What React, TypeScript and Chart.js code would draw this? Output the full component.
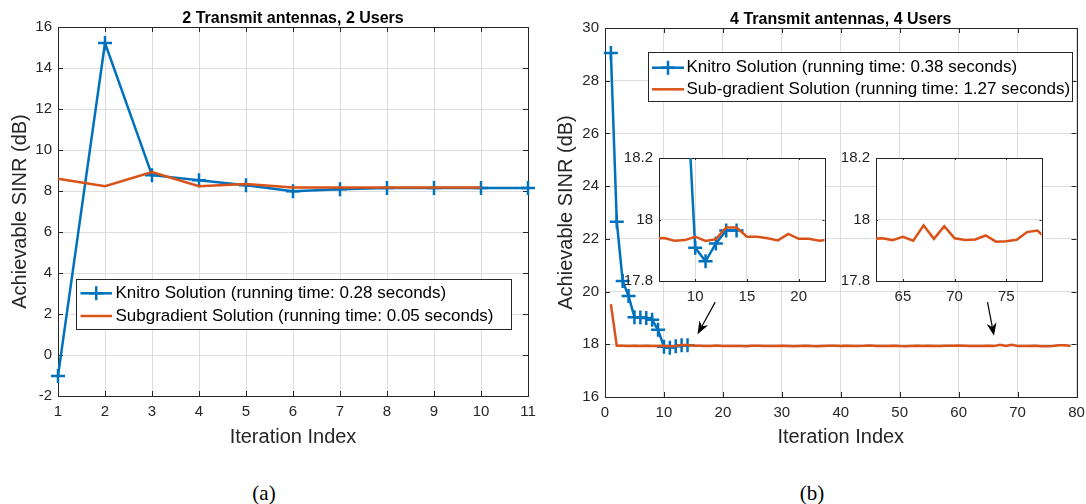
import React, { useEffect, useRef } from 'react';
import { Chart, registerables } from 'chart.js';

Chart.register(...registerables);

const FONT = '"Liberation Sans", Arial, Helvetica, sans-serif';
const SERIF = '"Liberation Serif", "Times New Roman", serif';
const BLUE = '#0072BD';
const ORANGE = '#D95319';
const AXIS = '#262626';
const GRID = '#dedede';

// ---------- Panel (a): 2 transmit antennas, 2 users ----------
const titleA = '2 Transmit antennas, 2 Users';
const iterKnitroA = [1, 2, 3, 4, 5, 6, 7, 8, 9, 10, 11];
const knitroA = [-1.02, 15.22, 8.77, 8.52, 8.28, 7.99, 8.08, 8.15, 8.15, 8.15, 8.15];
const iterSubgradA = [1, 2, 3, 4, 5, 6, 7, 8, 9, 10];
const subgradA = [8.6, 8.23, 8.93, 8.23, 8.34, 8.17, 8.17, 8.17, 8.17, 8.17];
const xTicksA = [1, 2, 3, 4, 5, 6, 7, 8, 9, 10, 11];
const yTicksA = [-2, 0, 2, 4, 6, 8, 10, 12, 14, 16];
const labelKnitroA = 'Knitro Solution (running time: 0.28 seconds)';
const labelSubgradA = 'Subgradient Solution (running time: 0.05 seconds)';

// ---------- Panel (b): 4 transmit antennas, 4 users ----------
const titleB = '4 Transmit antennas, 4 Users';
const iterKnitroB = [1, 2, 3, 4, 5, 6, 7, 8, 9, 10, 11, 12, 13, 14];
const knitroB = [29.05, 22.65, 20.4, 19.83, 19.03, 19.02, 19.0, 18.93, 18.55, 17.908, 17.864, 17.922, 17.964, 17.964];
const iterSubgradB = [
  1, 2, 3, 4, 5, 6, 7, 8, 9, 10,
  11, 12, 13, 14, 15, 16, 17, 18, 19, 20,
  21, 22, 23, 24, 25, 26, 27, 28, 29, 30,
  31, 32, 33, 34, 35, 36, 37, 38, 39, 40,
  41, 42, 43, 44, 45, 46, 47, 48, 49, 50,
  51, 52, 53, 54, 55, 56, 57, 58, 59, 60,
  61, 62, 63, 64, 65, 66, 67, 68, 69, 70,
  71, 72, 73, 74, 75, 76, 77, 78, 79,
];
const subgradB = [
  19.52, 17.94, 17.94, 17.936, 17.94, 17.938, 17.94, 17.931, 17.933, 17.944,
  17.93, 17.936, 17.974, 17.974, 17.944, 17.944, 17.939, 17.932, 17.953, 17.937,
  17.937, 17.931, 17.935, 17.928, 17.94, 17.946, 17.938, 17.932, 17.936, 17.942,
  17.934, 17.93, 17.938, 17.944, 17.931, 17.927, 17.936, 17.948, 17.94, 17.935,
  17.942, 17.937, 17.933, 17.941, 17.955, 17.939, 17.934, 17.938, 17.943, 17.932,
  17.929, 17.937, 17.945, 17.936, 17.94, 17.933, 17.938, 17.947, 17.941, 17.952,
  17.944, 17.937, 17.939, 17.933, 17.944, 17.931, 17.981, 17.937, 17.978, 17.939,
  17.933, 17.935, 17.948, 17.928, 17.929, 17.934, 17.959, 17.964, 17.934,
];
const xTicksB = [0, 10, 20, 30, 40, 50, 60, 70, 80];
const yTicksB = [16, 18, 20, 22, 24, 26, 28, 30];
const labelKnitroB = 'Knitro Solution (running time: 0.38 seconds)';
const labelSubgradB = 'Sub-gradient Solution (running time: 1.27 seconds)';

// insets
const xRangeInset1 = [6.5, 22.5];
const xRangeInset2 = [62.4, 78.4];
const yRangeInset = [17.8, 18.2];
const xTicksInset1 = [10, 15, 20];
const xTicksInset2 = [65, 70, 75];
const yTicksInset = [17.8, 18, 18.2];

// arrows (data coordinates of panel b)
const arrowsB = [
  { from: [18.7, 19.6], to: [15.7, 18.38] },
  { from: [64.9, 19.6], to: [66.0, 18.32] },
];

const axisLabelX = 'Iteration Index';
const axisLabelY = 'Achievable SINR (dB)';

const toPoints = (xs: number[], ys: number[]) => ys.map((y, i) => ({ x: xs[i], y }));

function makeDatasets(kx: number[], ky: number[], sx: number[], sy: number[], kl: string, sl: string) {
  return [
    {
      label: kl,
      data: toPoints(kx, ky),
      borderColor: BLUE,
      backgroundColor: BLUE,
      borderWidth: 2.5,
      pointStyle: 'cross',
      pointRadius: 7,
      pointBorderWidth: 2.5,
      pointBorderColor: BLUE,
      tension: 0,
      order: 1,
    },
    {
      label: sl,
      data: toPoints(sx, sy),
      borderColor: ORANGE,
      backgroundColor: ORANGE,
      borderWidth: 2.5,
      pointRadius: 0,
      tension: 0,
      order: 0,
    },
  ];
}

function framePlugin(tickLen: number) {
  return {
    id: 'frame',
    beforeDatasetsDraw(chart: any) {
      const { ctx, chartArea: a, scales } = chart;
      const xs = scales.x;
      const ys = scales.y;
      ctx.save();
      ctx.strokeStyle = AXIS;
      ctx.lineWidth = 1;
      ctx.beginPath();
      xs.ticks.forEach((t: any) => {
        const p = Math.round(xs.getPixelForValue(t.value)) + 0.5;
        ctx.moveTo(p, a.bottom);
        ctx.lineTo(p, a.bottom - tickLen);
        ctx.moveTo(p, a.top);
        ctx.lineTo(p, a.top + tickLen);
      });
      ys.ticks.forEach((t: any) => {
        const p = Math.round(ys.getPixelForValue(t.value)) + 0.5;
        ctx.moveTo(a.left, p);
        ctx.lineTo(a.left + tickLen, p);
        ctx.moveTo(a.right, p);
        ctx.lineTo(a.right - tickLen, p);
      });
      ctx.stroke();
      ctx.strokeRect(Math.round(a.left) + 0.5, Math.round(a.top) + 0.5, Math.round(a.right - a.left), Math.round(a.bottom - a.top));
      ctx.restore();
    },
  };
}

const whiteBgPlugin = {
  id: 'whiteBg',
  beforeDraw(chart: any) {
    const { ctx, chartArea: a } = chart;
    ctx.save();
    ctx.fillStyle = '#ffffff';
    ctx.fillRect(a.left, a.top, a.right - a.left, a.bottom - a.top);
    ctx.restore();
  },
};

function titlePlugin(text: string, baseline: number) {
  return {
    id: 'axTitle',
    afterDraw(chart: any) {
      const { ctx, chartArea: a } = chart;
      ctx.save();
      ctx.font = `bold 16px ${FONT}`;
      ctx.fillStyle = '#000';
      ctx.textAlign = 'center';
      ctx.textBaseline = 'alphabetic';
      ctx.fillText(text, (a.left + a.right) / 2, baseline);
      ctx.restore();
    },
  };
}

interface LegendSpec {
  x: number; y: number; w: number; h: number;
  rows: number[]; lineX0: number; lineX1: number; textX: number; fontSize: number;
}

function legendPlugin(o: LegendSpec) {
  return {
    id: 'boxLegend',
    afterDatasetsDraw(chart: any) {
      const ctx = chart.ctx;
      ctx.save();
      ctx.fillStyle = '#ffffff';
      ctx.fillRect(o.x, o.y, o.w, o.h);
      ctx.strokeStyle = AXIS;
      ctx.lineWidth = 1;
      ctx.strokeRect(o.x + 0.5, o.y + 0.5, o.w, o.h);
      chart.data.datasets.forEach((ds: any, i: number) => {
        const y = o.rows[i];
        ctx.strokeStyle = ds.borderColor;
        ctx.lineWidth = ds.borderWidth;
        ctx.beginPath();
        ctx.moveTo(o.lineX0, y);
        ctx.lineTo(o.lineX1, y);
        ctx.stroke();
        if (ds.pointRadius > 0) {
          const cx = (o.lineX0 + o.lineX1) / 2;
          const r = ds.pointRadius;
          ctx.lineWidth = ds.pointBorderWidth;
          ctx.beginPath();
          ctx.moveTo(cx - r, y);
          ctx.lineTo(cx + r, y);
          ctx.moveTo(cx, y - r);
          ctx.lineTo(cx, y + r);
          ctx.stroke();
        }
        ctx.fillStyle = '#000';
        ctx.font = `${o.fontSize}px ${FONT}`;
        ctx.textAlign = 'left';
        ctx.textBaseline = 'middle';
        ctx.fillText(ds.label, o.textX, y);
      });
      ctx.restore();
    },
  };
}

function arrowPlugin(arrows: { from: number[]; to: number[] }[]) {
  return {
    id: 'arrows',
    afterDatasetsDraw(chart: any) {
      const { ctx, scales } = chart;
      const xs = scales.x;
      const ys = scales.y;
      ctx.save();
      ctx.strokeStyle = '#000';
      ctx.fillStyle = '#000';
      ctx.lineWidth = 1.2;
      arrows.forEach((ar) => {
        const x0 = xs.getPixelForValue(ar.from[0]);
        const y0 = ys.getPixelForValue(ar.from[1]);
        const x1 = xs.getPixelForValue(ar.to[0]);
        const y1 = ys.getPixelForValue(ar.to[1]);
        const len = Math.hypot(x1 - x0, y1 - y0);
        const dx = (x1 - x0) / len;
        const dy = (y1 - y0) / len;
        const nx = -dy;
        const ny = dx;
        const L = 13;
        const W = 5;
        const notchX = x1 - dx * L * 0.7;
        const notchY = y1 - dy * L * 0.7;
        ctx.beginPath();
        ctx.moveTo(x0, y0);
        ctx.lineTo(notchX, notchY);
        ctx.stroke();
        ctx.beginPath();
        ctx.moveTo(x1, y1);
        ctx.lineTo(x1 - dx * L + nx * W, y1 - dy * L + ny * W);
        ctx.lineTo(notchX, notchY);
        ctx.lineTo(x1 - dx * L - nx * W, y1 - dy * L - ny * W);
        ctx.closePath();
        ctx.fill();
      });
      ctx.restore();
    },
  };
}

interface PanelSpec {
  width: number; height: number;
  area: { left: number; top: number; right: number; bottom: number };
  xScaleHeight: number;
  xRange: number[]; yRange: number[];
  xTicks: number[]; yTicks: number[];
  datasets: any[];
  xTitle?: string; yTitle?: string;
  yTitlePadTop?: number; xTitlePadBottom?: number;
  tickLen: number; clip: any; plugins: any[];
}

function buildConfig(s: PanelSpec): any {
  const tickFont = { family: FONT, size: 15 };
  const labelFont = { family: FONT, size: 20 };
  const zeroPad = (sc: any) => {
    sc.paddingLeft = 0;
    sc.paddingRight = 0;
    sc.paddingTop = 0;
    sc.paddingBottom = 0;
  };
  return {
    type: 'line',
    data: { datasets: s.datasets.map((d) => ({ ...d, clip: s.clip })) },
    options: {
      responsive: false,
      maintainAspectRatio: false,
      animation: false,
      events: [],
      layout: {
        padding: {
          left: 0,
          top: s.area.top,
          right: s.width - s.area.right,
          bottom: s.height - s.area.bottom - s.xScaleHeight,
        },
      },
      scales: {
        x: {
          type: 'linear',
          min: s.xRange[0],
          max: s.xRange[1],
          afterBuildTicks: (sc: any) => {
            sc.ticks = s.xTicks.map((v) => ({ value: v }));
          },
          afterFit: (sc: any) => {
            sc.height = s.xScaleHeight;
            zeroPad(sc);
          },
          grid: { color: GRID, lineWidth: 1, drawTicks: false },
          border: { display: false },
          ticks: {
            color: AXIS, font: tickFont, padding: 7, maxRotation: 0, minRotation: 0,
            autoSkip: false, callback: (v: any) => String(v),
          },
          title: s.xTitle
            ? { display: true, text: s.xTitle, color: AXIS, font: labelFont, padding: { top: 0, bottom: s.xTitlePadBottom } }
            : { display: false },
        },
        y: {
          type: 'linear',
          min: s.yRange[0],
          max: s.yRange[1],
          afterBuildTicks: (sc: any) => {
            sc.ticks = s.yTicks.map((v) => ({ value: v }));
          },
          afterFit: (sc: any) => {
            sc.width = s.area.left;
            zeroPad(sc);
          },
          grid: { color: GRID, lineWidth: 1, drawTicks: false },
          border: { display: false },
          ticks: {
            color: AXIS, font: tickFont, padding: 6, autoSkip: false,
            callback: (v: any) => String(v),
          },
          title: s.yTitle
            ? { display: true, text: s.yTitle, color: AXIS, font: labelFont, padding: { top: s.yTitlePadTop, bottom: 0 } }
            : { display: false },
        },
      },
      plugins: {
        legend: { display: false },
        tooltip: { enabled: false },
        title: { display: false },
      },
    },
    plugins: [framePlugin(s.tickLen), ...s.plugins],
  };
}

const captionStyle = (cx: number): React.CSSProperties => ({
  position: 'absolute',
  left: cx - 40,
  width: 80,
  top: 481,
  lineHeight: '24px',
  fontSize: 21,
  fontFamily: SERIF,
  textAlign: 'center',
  color: '#000',
});

export default function App() {
  const refA = useRef<HTMLCanvasElement>(null);
  const refB = useRef<HTMLCanvasElement>(null);
  const refI1 = useRef<HTMLCanvasElement>(null);
  const refI2 = useRef<HTMLCanvasElement>(null);

  useEffect(() => {
    const dsA = makeDatasets(iterKnitroA, knitroA, iterSubgradA, subgradA, labelKnitroA, labelSubgradA);
    const dsB = makeDatasets(iterKnitroB, knitroB, iterSubgradB, subgradB, labelKnitroB, labelSubgradB);

    const chartA = new Chart(refA.current as HTMLCanvasElement, buildConfig({
      width: 545, height: 470,
      area: { left: 58, top: 27, right: 528, bottom: 396 },
      xScaleHeight: 60,
      xRange: [1, 11], yRange: [-2, 16],
      xTicks: xTicksA, yTicks: yTicksA,
      datasets: dsA,
      xTitle: axisLabelX, yTitle: axisLabelY,
      yTitlePadTop: 8, xTitlePadBottom: 7,
      tickLen: 5, clip: false,
      plugins: [
        titlePlugin(titleA, 22.5),
        legendPlugin({ x: 76, y: 279, w: 435, h: 50, rows: [293.3, 316], lineX0: 80.5, lineX1: 112, textX: 115.5, fontSize: 17 }),
      ],
    }));

    const chartB = new Chart(refB.current as HTMLCanvasElement, buildConfig({
      width: 541, height: 470,
      area: { left: 60, top: 28, right: 533, bottom: 397 },
      xScaleHeight: 60,
      xRange: [0, 80], yRange: [16, 30],
      xTicks: xTicksB, yTicks: yTicksB,
      datasets: dsB,
      xTitle: axisLabelX, yTitle: axisLabelY,
      yTitlePadTop: 9, xTitlePadBottom: 8,
      tickLen: 5, clip: false,
      plugins: [
        titlePlugin(titleB, 23.5),
        legendPlugin({ x: 103, y: 52, w: 424, h: 49, rows: [67.7, 89.3], lineX0: 107, lineX1: 139, textX: 141.5, fontSize: 17 }),
        arrowPlugin(arrowsB),
      ],
    }));

    const chartI1 = new Chart(refI1.current as HTMLCanvasElement, buildConfig({
      width: 222, height: 175,
      area: { left: 47, top: 18, right: 217, bottom: 141 },
      xScaleHeight: 30,
      xRange: xRangeInset1, yRange: yRangeInset,
      xTicks: xTicksInset1, yTicks: yTicksInset,
      datasets: dsB,
      tickLen: 2, clip: 0,
      plugins: [whiteBgPlugin],
    }));

    const chartI2 = new Chart(refI2.current as HTMLCanvasElement, buildConfig({
      width: 222, height: 175,
      area: { left: 47, top: 18, right: 217, bottom: 141 },
      xScaleHeight: 30,
      xRange: xRangeInset2, yRange: yRangeInset,
      xTicks: xTicksInset2, yTicks: yTicksInset,
      datasets: dsB,
      tickLen: 2, clip: 0,
      plugins: [whiteBgPlugin],
    }));

    return () => {
      chartA.destroy();
      chartB.destroy();
      chartI1.destroy();
      chartI2.destroy();
    };
  }, []);

  return (
    <div style={{ position: 'fixed', left: 0, top: 0, width: 1086, height: 504, background: '#ffffff', overflow: 'hidden' }}>
      <canvas ref={refA} width={545} height={470} style={{ position: 'absolute', left: 0, top: 0 }} />
      <canvas ref={refB} width={541} height={470} style={{ position: 'absolute', left: 545, top: 0 }} />
      <canvas ref={refI1} width={222} height={175} style={{ position: 'absolute', left: 612, top: 140 }} />
      <canvas ref={refI2} width={222} height={175} style={{ position: 'absolute', left: 829, top: 140 }} />
      <div style={captionStyle(264)}>(a)</div>
      <div style={captionStyle(812)}>(b)</div>
    </div>
  );
}
